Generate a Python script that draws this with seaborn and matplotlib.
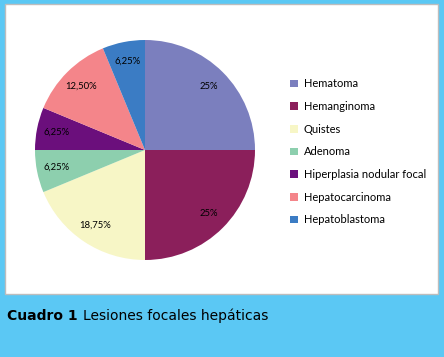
import matplotlib
matplotlib.use("Agg")
import matplotlib.pyplot as plt
import matplotlib.patches as mpatches
import seaborn as sns

sns.set_style("white")
plt.rcParams["font.family"] = ["Lato", "DejaVu Sans"]
plt.rcParams["text.color"] = "black"

# data
lesiones = ["Hematoma", "Hemanginoma", "Quistes", "Adenoma",
            "Hiperplasia nodular focal", "Hepatocarcinoma", "Hepatoblastoma"]
porcentajes = [25, 25, 18.75, 6.25, 6.25, 12.5, 6.25]
colores = ["#7B7FBE", "#8B1F5B", "#F7F6C6", "#8DCFAE",
           "#6B0F7C", "#F4858A", "#3B7CC4"]

W, H = 444, 357
fig = plt.figure(figsize=(W / 100, H / 100), dpi=100)
fig.patch.set_facecolor("#5BC8F4")

# white panel (behind the axes)
panel = mpatches.Rectangle((5 / W, 1 - 294 / H), 433 / W, 290 / H,
                           transform=fig.transFigure, facecolor="white",
                           edgecolor="#BDBDBD", linewidth=1.0, zorder=-10)
fig.patches.append(panel)


def fmt(p):
    if abs(p - round(p)) < 1e-6:
        return f"{p:.0f}%"
    return f"{p:.2f}%".replace(".", ",")


# pie centred at (145,150) px, radius 110 px
r = 110
ax = fig.add_axes([(145 - r) / W, 1 - (150 + r) / H, 2 * r / W, 2 * r / H])
ax.set_zorder(1)
ax.patch.set_visible(False)
wedges, texts, autotexts = ax.pie(
    porcentajes, colors=colores, startangle=90, counterclock=False,
    autopct=fmt, pctdistance=0.82, radius=1,
    wedgeprops=dict(linewidth=0),
    textprops=dict(fontsize=6.8, color="black"))
ax.set_xlim(-1, 1)
ax.set_ylim(-1, 1)
ax.set_aspect("equal")
ax.axis("off")

fig.legend(wedges, lesiones, loc="upper left",
           bbox_to_anchor=(286 / W, 1 - 74 / H), frameon=False,
           fontsize=8, handlelength=0.7, handleheight=0.7,
           handletextpad=0.5, labelspacing=1.05, borderaxespad=0,
           labelcolor="black")

# caption
cap_font = ["DejaVu Sans"]
t1 = fig.text(7 / W, 1 - 316 / H, "Cuadro 1", fontsize=10, color="black",
              fontweight="bold", va="center", ha="left", family=cap_font)
fig.canvas.draw()
bb = t1.get_window_extent()
fig.text((bb.x1 + 5) / W, 1 - 316 / H, "Lesiones focales hepáticas",
         fontsize=10, va="center", ha="left", family=cap_font, color="black")

fig.savefig("out.png", dpi=100, facecolor=fig.get_facecolor())
